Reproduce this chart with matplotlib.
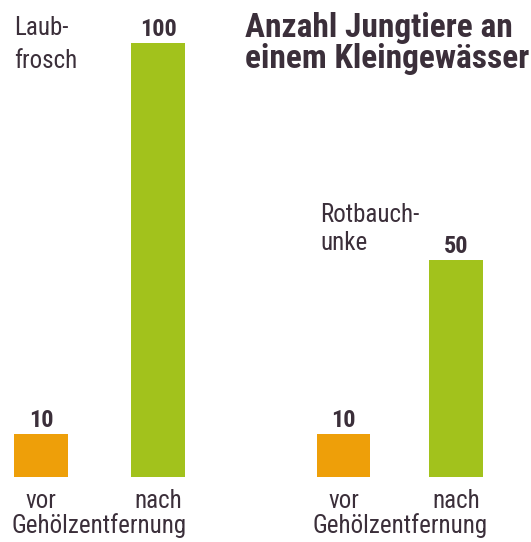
import matplotlib
matplotlib.use("Agg")
import matplotlib.pyplot as plt
from matplotlib import font_manager as fm

names = {f.name for f in fm.fontManager.ttflist}
STRETCH = "normal"
FONT = "DejaVu Sans"
for cand in ["Liberation Sans Narrow", "Roboto Condensed", "Open Sans Condensed"]:
    if cand in names:
        FONT = cand
        break
else:
    if any(f.name == "DejaVu Sans" and f.stretch == "condensed" for f in fm.fontManager.ttflist):
        STRETCH = "condensed"
plt.rcParams["font.family"] = [FONT, "DejaVu Sans"]
plt.rcParams["font.stretch"] = STRETCH

categories = ["vor", "nach"]
species = ["Laub-\nfrosch", "Rotbauch-\nunke"]
laubfrosch = [10, 100]
rotbauchunke = [10, 50]
xlabel = "Gehölzentfernung"
title = "Anzahl Jungtiere an\neinem Kleingewässer"

ORANGE = "#EE9F09"
GREEN = "#A2C21C"
TXT = "#3b2f3a"

W, H = 531, 542
fig = plt.figure(figsize=(W / 100, H / 100), dpi=100)

PX = 477.4 / 110  # pixels per data unit vertically

def make_ax(center0_px, unit):
    xmin, xmax = -0.35, 1.6
    left_px = center0_px + xmin * unit
    ax = fig.add_axes([left_px / W, 65 / H, (xmax - xmin) * unit / W, 477.4 / H])
    ax.set_xlim(xmin, xmax)
    ax.set_ylim(0, 110)
    ax.axis("off")
    return ax, unit

groups = [
    (make_ax(41, 117.0), laubfrosch),
    (make_ax(343.5, 112.5), rotbauchunke),
]

for (ax, unit), vals in groups:
    ax.bar([0, 1], vals, width=53.5 / unit, color=[ORANGE, GREEN])
    for x, v in zip([0, 1], vals):
        ax.text(x, v + 1.5, str(v), ha="center", va="baseline", fontsize=17.5,
                fontweight="bold", color=TXT)
    for x, c in zip([0, 1], categories):
        ax.text(x, -31 / PX, c, ha="center", va="baseline", fontsize=18, color=TXT)
    ax.text(0.5, -56 / PX, xlabel, ha="center", va="baseline", fontsize=18, color=TXT)

# species labels (x in pixels, line baselines in pixels above bar base)
sp_pos = [(groups[0][0], 14, [442, 409]), (groups[1][0], 320, [255, 227])]
for ((ax, unit), xpx, bls), name in zip(sp_pos, species):
    x0 = ax.get_position().x0 * W
    for line, bl in zip(name.split("\n"), bls):
        ax.text(-0.35 + (xpx - x0) / unit, bl / PX, line, ha="left", va="baseline",
                fontsize=18, color=TXT)

for line, bl in zip(title.split("\n"), [37, 68]):
    fig.text(245 / W, 1 - bl / H, line, ha="left", va="baseline", fontsize=24,
             fontweight="bold", color=TXT)

fig.savefig("out.png", dpi=100)
